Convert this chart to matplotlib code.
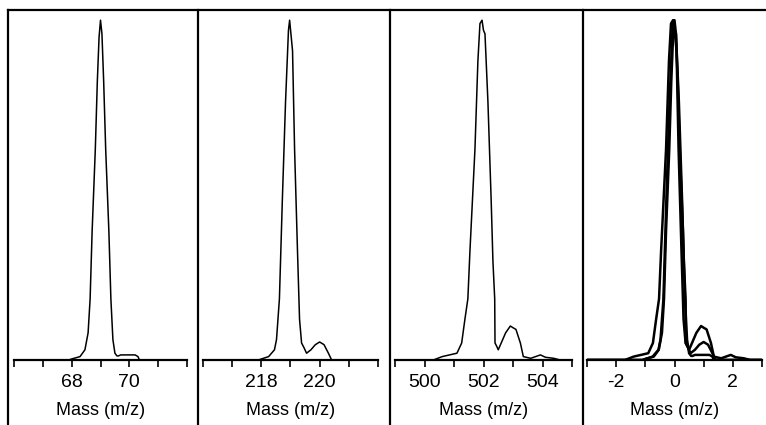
import numpy as np
import matplotlib.pyplot as plt
from matplotlib.lines import Line2D

plt.rcParams['font.family'] = ['Liberation Sans', 'DejaVu Sans']
plt.rcParams['axes.unicode_minus'] = False

# panel 1 : m/z 69
mz1 = [66.0, 67.9, 68.0, 68.29, 68.46, 68.57, 68.64, 68.71, 68.82, 68.89, 68.95, 69.0,
       69.05, 69.11, 69.18, 69.29, 69.36, 69.43, 69.5, 69.57, 69.62, 69.7, 70.2, 70.3, 70.35, 72.0]
int1 = [0.0, 0.0, 0.003, 0.01, 0.03, 0.08, 0.18, 0.38, 0.62, 0.82, 0.95, 1.0,
        0.96, 0.82, 0.62, 0.38, 0.18, 0.06, 0.02, 0.012, 0.012, 0.015, 0.015, 0.01, 0.0, 0.0]

# panel 2 : m/z 219
mz2 = [216.0, 217.9, 218.0, 218.25, 218.45, 218.52, 218.62, 218.72, 218.83, 218.93, 218.97,
       219.07, 219.14, 219.24, 219.31, 219.38, 219.47, 219.55, 219.7, 219.85, 220.0, 220.15,
       220.3, 220.41, 222.0]
int2 = [0.0, 0.0, 0.003, 0.01, 0.03, 0.06, 0.18, 0.47, 0.76, 0.97, 1.0,
        0.91, 0.62, 0.32, 0.12, 0.05, 0.035, 0.02, 0.03, 0.045, 0.053, 0.045,
        0.02, 0.0, 0.0]

# panel 3 : m/z 502
mz3 = [499.0, 500.3, 500.6, 501.1, 501.26, 501.37, 501.47, 501.54, 501.71, 501.81, 501.88,
       501.95, 502.0, 502.05, 502.15, 502.26, 502.32, 502.38, 502.39, 502.45, 502.5, 502.6,
       502.75, 502.91, 503.0, 503.1, 503.25, 503.35, 503.6, 503.93, 504.1, 504.38, 504.6, 505.0]
int3 = [0.0, 0.0, 0.01, 0.02, 0.05, 0.12, 0.18, 0.32, 0.62, 0.88, 0.99,
        1.0, 0.97, 0.96, 0.76, 0.47, 0.29, 0.18, 0.05, 0.04, 0.03, 0.05,
        0.08, 0.1, 0.095, 0.09, 0.05, 0.01, 0.005, 0.015, 0.008, 0.005, 0.0, 0.0]

nominal = [69, 219, 502]
xlims = [(66, 72), (216, 222), (499, 505), (-3, 3)]
# axes left / width in figure pixels
pos_px = [(14, 173), (203, 175), (395, 177), (587, 175)]

fig = plt.figure(figsize=(7.66, 4.25), dpi=100)
W, H = 766, 425
bottom = (H - 360) / H
height = 350 / H

data = [(mz1, int1), (mz2, int2), (mz3, int3)]
axes = []
for i, (lx, wx) in enumerate(pos_px):
    ax = fig.add_axes([lx / W, bottom, wx / W, height])
    axes.append(ax)
    if i < 3:
        ax.plot(data[i][0], data[i][1], color='black', lw=1.1)
    else:
        for (m, s), n in zip(data, nominal):
            ax.plot(np.array(m) - n, s, color='black', lw=1.8)
    lo, hi = xlims[i]
    ax.set_xlim(lo, hi)
    ax.set_ylim(0, 1.03)
    for sp in ['top', 'left', 'right']:
        ax.spines[sp].set_visible(False)
    ax.spines['bottom'].set_linewidth(1.6)
    ax.set_yticks([])
    major = [v for v in range(lo, hi + 1) if v % 2 == 0 and lo < v < hi]
    ax.set_xticks(major)
    ax.set_xticks(range(lo, hi + 1), minor=True)
    ax.tick_params(axis='x', which='both', direction='out', length=5, width=1.2,
                   labelsize=14, pad=5)
    ax.set_xlabel('Mass (m/z)', fontsize=13, labelpad=8)

# frame lines
fig.add_artist(Line2D([8 / W, 1.0], [1 - 10 / H, 1 - 10 / H], color='black', lw=1.6))
for xd in [8, 198, 390, 583]:
    fig.add_artist(Line2D([xd / W, xd / W], [0, 1 - 10 / H], color='black', lw=1.6))

fig.savefig('out.png', dpi=100)
